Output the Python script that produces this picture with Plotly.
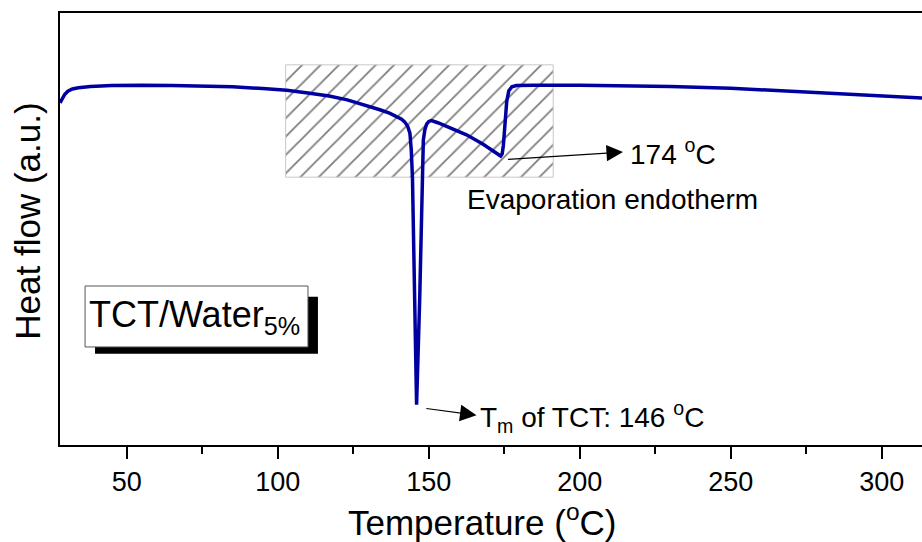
import plotly.graph_objects as go

# ---- data ----
temperature = [27.9, 28.6, 29.5, 30.5, 32, 34, 38, 45, 55, 65, 75, 85, 95, 103, 110, 117, 123, 128,
               133.8, 137, 139.3, 141, 142, 143, 143.75, 144.2, 144.6, 145.3, 145.96, 147.0, 147.95,
               148.2, 148.7, 149.3, 150.0, 150.9, 153, 157, 162.5, 168, 172, 173.8, 174.3, 174.7,
               175.2, 175.8, 176.5, 177.5, 179, 185, 200, 215, 230, 250, 262, 280, 300, 313.3]
heat_flow = [7.92, 8.02, 8.12, 8.19, 8.24, 8.27, 8.30, 8.32, 8.33, 8.32, 8.31, 8.29, 8.25, 8.21, 8.15,
             8.08, 7.99, 7.89, 7.76, 7.68, 7.60, 7.54, 7.48, 7.38, 7.22, 6.83, 6.18, 3.40, 0.93, 3.40,
             6.18, 7.06, 7.30, 7.43, 7.49, 7.51, 7.46, 7.34, 7.18, 6.96, 6.78, 6.69, 6.74, 6.94, 7.40,
             7.95, 8.20, 8.29, 8.32, 8.33, 8.33, 8.32, 8.30, 8.26, 8.22, 8.15, 8.08, 8.03]

x_ticks = [50, 100, 150, 200, 250, 300]
x_range = [27.9, 313.3]
y_range = [0, 10]

hatch_T = [102.6, 191.2]
hatch_hf = [6.20, 8.80]

label_box_T = [36.2, 110.0]
label_box_hf = [2.27, 3.68]
shadow_box_T = [39.5, 113.3]
shadow_box_hf = [2.11, 3.43]

FONT = "Liberation Sans, Arial, sans-serif"

fig = go.Figure()

# hatched region
fig.add_trace(go.Scatter(
    x=[hatch_T[0], hatch_T[1], hatch_T[1], hatch_T[0], hatch_T[0]],
    y=[hatch_hf[0], hatch_hf[0], hatch_hf[1], hatch_hf[1], hatch_hf[0]],
    mode="lines", fill="toself", fillcolor="white",
    fillpattern=dict(shape="/", size=13, solidity=0.14, fgcolor="black", bgcolor="white"),
    line=dict(color="#c8c8c8", width=1), hoverinfo="skip", showlegend=False))

# DSC curve
fig.add_trace(go.Scatter(
    x=temperature, y=heat_flow, mode="lines",
    line=dict(color="#0000a0", width=3.5), showlegend=False))

shapes = [
    dict(type="rect", xref="x", yref="y", x0=shadow_box_T[0], x1=shadow_box_T[1],
         y0=shadow_box_hf[0], y1=shadow_box_hf[1], fillcolor="black", line=dict(width=0)),
    dict(type="rect", xref="x", yref="y", x0=label_box_T[0], x1=label_box_T[1],
         y0=label_box_hf[0], y1=label_box_hf[1], fillcolor="white",
         line=dict(color="#555555", width=1)),
]

annotations = [
    # arrow to 174 °C
    dict(x=214.3, y=6.78, ax=175.7, ay=6.61, xref="x", yref="y", axref="x", ayref="y",
         text="", showarrow=True, arrowhead=2, arrowsize=3.0, arrowwidth=1.1, arrowcolor="black",
         standoff=0, startstandoff=0),
    dict(x=215.9, y=6.78, xref="x", yref="y", text="174 <sup>o</sup>C", showarrow=False,
         xanchor="left", yanchor="middle", font=dict(family=FONT, size=28, color="black")),
    dict(x=162.0, y=5.69, xref="x", yref="y", text="Evaporation endotherm", showarrow=False,
         xanchor="left", yanchor="middle", font=dict(family=FONT, size=28, color="black")),
    # arrow to Tm
    dict(x=165.8, y=0.69, ax=148.7, ay=0.85, xref="x", yref="y", axref="x", ayref="y",
         text="", showarrow=True, arrowhead=2, arrowsize=3.0, arrowwidth=1.1, arrowcolor="black",
         standoff=0, startstandoff=0),
    dict(x=166.3, y=0.64, xref="x", yref="y", text="T<sub>m</sub> of TCT: 146 <sup>o</sup>C",
         showarrow=False, xanchor="left", yanchor="middle",
         font=dict(family=FONT, size=28, color="black")),
    # sample label
    dict(x=36.9, y=2.97, xref="x", yref="y", text="TCT/Water<sub>5%</sub>", showarrow=False,
         xanchor="left", yanchor="middle", font=dict(family=FONT, size=36, color="black")),
    # axis titles
    dict(x=-0.0371, y=0.517, xref="paper", yref="paper", text="Heat flow (a.u.)",
         textangle=-90, showarrow=False, xanchor="center", yanchor="middle",
         font=dict(family=FONT, size=35, color="black")),
    dict(x=0.49, y=-0.1736, xref="paper", yref="paper", text="Temperature (<sup>o</sup>C)",
         showarrow=False, xanchor="center", yanchor="middle",
         font=dict(family=FONT, size=35, color="black")),
]

fig.update_layout(
    width=922, height=542,
    margin=dict(l=60, r=0, t=13, b=97),
    paper_bgcolor="white", plot_bgcolor="white",
    shapes=shapes, annotations=annotations,
    font=dict(family=FONT, color="black"),
    xaxis=dict(range=x_range, tickvals=x_ticks, ticks="outside", ticklen=12, tickwidth=1.5,
               tickcolor="black", showline=True, linewidth=2, linecolor="black", mirror=True,
               showgrid=False, zeroline=False, tickfont=dict(family=FONT, size=27, color="black"),
               minor=dict(dtick=25, tick0=25, ticks="outside", ticklen=7, tickwidth=1.5,
                          tickcolor="black", showgrid=False)),
    yaxis=dict(range=y_range, showticklabels=False, ticks="", showline=True, linewidth=2,
               linecolor="black", mirror=False, showgrid=False, zeroline=False),
)

fig.write_html("out.html")
